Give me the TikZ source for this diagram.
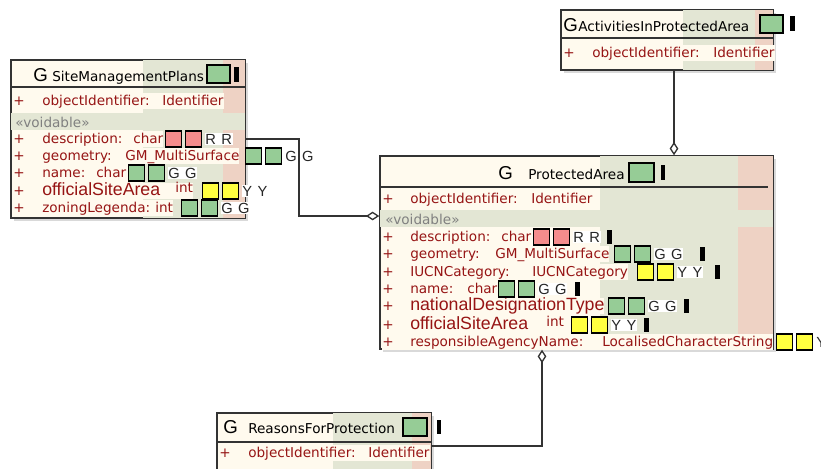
\documentclass[tikz,border=0pt]{standalone}
\usepackage{fontspec}
\setmainfont{DejaVu Sans}
\newfontfamily\arialfont{Liberation Sans}
\usepackage{xcolor}
\definecolor{umlCream}{HTML}{FFFAEE}
\definecolor{umlColGreen}{HTML}{E3E6D4}
\definecolor{umlColPink}{HTML}{EED2C4}
\definecolor{umlRed}{HTML}{961414}
\definecolor{umlBorder}{HTML}{333333}
\definecolor{umlVoid}{HTML}{808080}
\definecolor{flagGreen}{HTML}{96CC96}
\definecolor{flagPink}{HTML}{F58C8C}
\definecolor{flagYellow}{HTML}{FFFF40}
\usepackage{tikz}
\usetikzlibrary{arrows.meta,positioning,shadows,fit}

\newlength{\pxu}
\setlength{\pxu}{0.75pt}
\newcommand{\cell}[2]{\makebox[#1\pxu][l]{#2}}
\newcommand{\rowfont}{\fontsize{10.2}{12}\selectfont}
\newcommand{\bigrow}{\arialfont\fontsize{13.3}{15}\selectfont}
% two flag squares and their letters
\newcommand{\flagpair}[5]{%
    \node[#4] (#1a) at (#2,#3) {};
    \node[#4, right=2.25pt of #1a] (#1b) {};
    \node[flagtxt, right=1.5pt of #1b] (#1c) {#5\hspace{4pt}#5};}

\tikzset{
    umlbox/.style={
        draw=umlBorder,
        line width=1.1pt,
        fill=umlCream,
        inner sep=0pt,
        drop shadow={shadow xshift=2pt, shadow yshift=-2pt, opacity=0.3}
    },
    boxedge/.style={draw=umlBorder, line width=1.1pt},
    sepline/.style={draw=umlBorder, line width=1pt},
    hdrG/.style={
        anchor=base west,
        inner sep=0pt,
        font=\arialfont\fontsize{14}{16}\selectfont
    },
    hdrname/.style={anchor=base west, inner sep=0pt, font=\rowfont},
    attrrow/.style={
        anchor=west,
        inner sep=0pt,
        fill=umlCream,
        text=umlRed,
        font=\rowfont,
        text height=9.5pt,
        text depth=3pt
    },
    voidrow/.style={anchor=west, inner sep=0pt, text=umlVoid, font=\rowfont},
    flagbase/.style={
        draw=black,
        line width=0.9pt,
        minimum size=12pt,
        inner sep=0pt,
        anchor=west
    },
    flagG/.style={flagbase, fill=flagGreen},
    flagR/.style={flagbase, fill=flagPink},
    flagY/.style={flagbase, fill=flagYellow},
    hdrflag/.style={draw=black, line width=1.1pt, fill=flagGreen, inner sep=0pt},
    hdrbar/.style={fill=black, inner sep=0pt},
    flagtxt/.style={
        anchor=west,
        inner sep=0.6pt,
        fill=white,
        text=black!85,
        font=\arialfont\fontsize{11}{12}\selectfont,
        text height=8pt,
        text depth=0.5pt
    },
    barmark/.style={
        fill=black,
        minimum width=3.5pt,
        minimum height=11pt,
        inner sep=0pt,
        anchor=west
    },
    aggr/.style={
        draw=umlBorder,
        line width=1pt,
        -{Diamond[fill=white, length=10pt, width=6.5pt]}
    }
}

\begin{document}
\begin{tikzpicture}[x=0.75pt, y=-0.75pt]
    \clip (0,0) rectangle (821,468);

    % SiteManagementPlans
    \node[umlbox, fit={(11,60) (245,218)}] (smp) {};
    \fill[umlColGreen] (143,60) rectangle (223,218);
    \fill[umlColPink] (223,60) rectangle (245,218);
    \fill[umlColGreen] (11,113) rectangle (245,130);
    \draw[boxedge] (smp.south west) rectangle (smp.north east);
    \draw[sepline] (11,87) -- (245,87);
    \node[hdrG] (smpG) at (33,81) {G};
    \node[hdrname] (smpname) at (52,81) {SiteManagementPlans};
    \node[hdrflag, fit={(207,65) (230,83)}] (smpflag) {};
    \node[hdrbar, fit={(234,67) (239,82)}] (smpbar) {};
    \node[attrrow] (smpO1) at (13,101) {\cell{29}{+}\cell{120}{objectIdentifier:}Identifier};
    \node[voidrow] (smpvoid) at (15,122) {«voidable»};
    \node[attrrow] (smpDe) at (13,139) {\cell{29}{+}\cell{91}{description:}char};
    \node[attrrow] (smpGe) at (13,156) {\cell{29}{+}\cell{83}{geometry:}GM\_MultiSurface};
    \node[attrrow] (smpNa) at (13,173) {\cell{29}{+}\cell{54}{name:}char};
    \node[attrrow] (smpOf) at (13,191) {\cell{29}{+}\cell{133}{\bigrow officialSiteArea}\raisebox{2pt}{int}};
    \node[attrrow] (smpZo) at (13,208) {\cell{29}{+}\cell{113}{zoningLegenda:}int};
    \flagpair{smpfDe}{165}{139}{flagR}{R}
    \flagpair{smpfGe}{245}{156}{flagG}{G}
    \flagpair{smpfNa}{128}{173}{flagG}{G}
    \flagpair{smpfOf}{202}{191}{flagY}{Y}
    \flagpair{smpfZo}{181}{208}{flagG}{G}

    % ActivitiesInProtectedArea
    \node[umlbox, fit={(561,10) (773,70)}] (act) {};
    \fill[umlColGreen] (683,10) rectangle (755,70);
    \fill[umlColPink] (755,10) rectangle (773,70);
    \draw[boxedge] (act.south west) rectangle (act.north east);
    \draw[sepline] (561,38) -- (773,38);
    \node[hdrG] (actG) at (563,31) {G};
    \node[hdrname] (actname) at (578,31) {ActivitiesInProtectedArea};
    \node[hdrflag, fit={(760,15) (783,33)}] (actflag) {};
    \node[hdrbar, fit={(790,16) (795,31)}] (actbar) {};
    \node[attrrow] (actO1) at (563,53) {\cell{29}{+}\cell{121}{objectIdentifier:}Identifier};

    % ProtectedArea
    \node[umlbox, fit={(380,156) (773,349)}] (pa) {};
    \fill[umlColGreen] (600,156) rectangle (738,349);
    \fill[umlColPink] (738,156) rectangle (773,349);
    \fill[umlColGreen] (380,210) rectangle (773,227);
    \draw[boxedge] (pa.south west) rectangle (pa.north east);
    \draw[sepline] (380,187) -- (768,187);
    \node[hdrG] (paG) at (498,179) {G};
    \node[hdrname] (paname) at (528,179) {ProtectedArea};
    \node[hdrflag, fit={(629,163) (654,182)}] (paflag) {};
    \node[hdrbar, fit={(661,165) (665,180)}] (pabar) {};
    \node[attrrow] (paO1) at (382,199) {\cell{28}{+}\cell{121}{objectIdentifier:}Identifier};
    \node[voidrow] (pavoid) at (385,219) {«voidable»};
    \node[attrrow] (paDe) at (382,237) {\cell{28}{+}\cell{91}{description:}char};
    \node[attrrow] (paGe) at (382,254) {\cell{28}{+}\cell{85}{geometry:}GM\_MultiSurface};
    \node[attrrow] (paIu) at (382,272) {\cell{28}{+}\cell{122}{IUCNCategory:}IUCNCategory};
    \node[attrrow] (paNa) at (382,289) {\cell{28}{+}\cell{57}{name:}char};
    \node[attrrow] (paNd) at (382,306) {\cell{28}{+}{\bigrow nationalDesignationType}};
    \node[attrrow] (paOf) at (382,325) {\cell{28}{+}\cell{136}{\bigrow officialSiteArea}\raisebox{2pt}{int}};
    \node[attrrow] (paRa) at (382,342) {\cell{28}{+}\cell{192}{responsibleAgencyName:}LocalisedCharacterString};
    \flagpair{pafDe}{533}{237}{flagR}{R}
    \flagpair{pafGe}{614}{254}{flagG}{G}
    \flagpair{pafIu}{637}{272}{flagY}{Y}
    \flagpair{pafNa}{498}{289}{flagG}{G}
    \flagpair{pafNd}{608}{306}{flagG}{G}
    \flagpair{pafOf}{571}{325}{flagY}{Y}
    \flagpair{pafRa}{776}{342}{flagY}{Y}
    \node[barmark] (pabDe) at (607,237) {};
    \node[barmark] (pabGe) at (700,254) {};
    \node[barmark] (pabIu) at (715,272) {};
    \node[barmark] (pabNa) at (575,289) {};
    \node[barmark] (pabNd) at (684,306) {};
    \node[barmark] (pabOf) at (644,325) {};

    % ReasonsForProtection
    \node[umlbox, fit={(217,413) (431,480)}] (rfp) {};
    \fill[umlColGreen] (333,413) rectangle (412,480);
    \fill[umlColPink] (412,413) rectangle (431,480);
    \draw[boxedge] (rfp.south west) rectangle (rfp.north east);
    \draw[sepline] (217,442) -- (431,442);
    \node[hdrG] (rfpG) at (223,433) {G};
    \node[hdrname] (rfpname) at (248,433) {ReasonsForProtection};
    \node[hdrflag, fit={(403,418) (427,436)}] (rfpflag) {};
    \node[hdrbar, fit={(437,420) (441,434)}] (rfpbar) {};
    \node[attrrow] (rfpO1) at (219,453) {\cell{29}{+}\cell{120}{objectIdentifier:}Identifier};

    % Connections
    \coordinate (smpjoint) at (299,216);
    \coordinate (actx) at (674,0);
    \coordinate (rfpjoint) at (542,446);
    \draw[aggr] (smp.east) -| (smpjoint) -- (smpjoint -| pa.west);
    \draw[aggr] (act.south -| actx) -- (pa.north -| actx);
    \draw[aggr] (rfpjoint -| rfp.east) -- (rfpjoint) -- (rfpjoint |- pa.south);
\end{tikzpicture}
\end{document}
